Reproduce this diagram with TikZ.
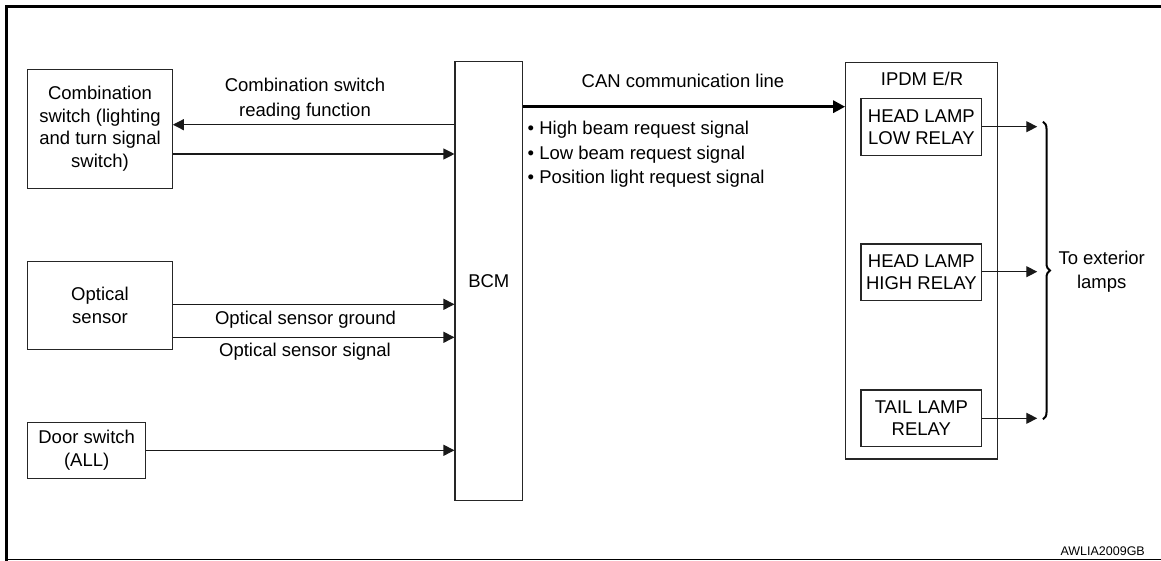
\documentclass[tikz,border=0pt]{standalone}
\usepackage{fontspec}
\setmainfont{Liberation Sans}
\usetikzlibrary{arrows.meta,decorations.pathreplacing}
\newcommand\lblfont{\fontsize{18.5}{22.5}\selectfont}
\tikzset{
  box/.style={draw=black!85, line width=1.1pt, inner sep=0pt, align=center, font=\lblfont},
  lbl/.style={inner sep=0pt, align=center, font=\lblfont},
  arr/.style={draw=black!90, line width=1.1pt, -{Triangle[length=11pt,width=11pt]}},
  frame/.style={line width=3pt},
}
\begin{document}
\begin{tikzpicture}[x=1pt,y=-1pt]
\useasboundingbox (0,0) rectangle (1161,561);
% frame
\draw[frame] (1161,6.2) -- (6.2,6.2) -- (6.2,561);
\draw[line width=1.5pt] (6.2,559.6) -- (1161,559.6);

% left boxes
\node[box, minimum width=144.6pt, minimum height=119pt] (combo) at (100,128.8)
  {Combination\\switch (lighting\\and turn signal\\switch)};
\node[box, minimum width=144.6pt, minimum height=87.6pt] (optical) at (100,305.5)
  {Optical\\sensor};
\node[box, minimum width=118pt, minimum height=56pt] (door) at (86.7,450.3)
  {Door switch\\(ALL)};

% BCM
\node[box, minimum width=67.7pt, minimum height=439pt] (bcm) at (488.85,281.2) {BCM};

% IPDM
\node[box, minimum width=151.6pt, minimum height=396.7pt] (ipdm) at (921.5,260.65) {};
\node[lbl] (ipdmlbl) at (922,79) {IPDM E/R};
\node[box, minimum width=120.7pt, minimum height=57.4pt] (low) at (921.35,127)
  {HEAD LAMP\\LOW RELAY};
\node[box, minimum width=120.7pt, minimum height=56.7pt] (high) at (921.35,272.35)
  {HEAD LAMP\\HIGH RELAY};
\node[box, minimum width=120.7pt, minimum height=56.7pt] (tail) at (921.35,418.35)
  {TAIL LAMP\\RELAY};

% connectors left
\draw[arr] (bcm.west |- 0,124.7) -- (combo.east |- 0,124.7);
\draw[arr] (combo.east |- 0,154) -- (bcm.west |- 0,154);
\draw[arr] (optical.east |- 0,304.3) -- (bcm.west |- 0,304.3);
\draw[arr] (optical.east |- 0,337.3) -- (bcm.west |- 0,337.3);
\draw[arr] (door.east |- 0,450.3) -- (bcm.west |- 0,450.3);

\node[lbl, font=\fontsize{18.5}{24.5}\selectfont] (readlbl) at (305,99.2) {Combination switch\\reading function};
\node[lbl] (gndlbl) at (305.5,320) {Optical sensor ground};
\node[lbl] (siglbl) at (305,351.7) {Optical sensor signal};

% CAN line
\draw[line width=3.2pt, -{Triangle[length=12pt,width=12pt]}] (bcm.east |- 0,106.7) -- (ipdm.west |- 0,106.7);
\node[lbl] (canlbl) at (683,81) {CAN communication line};
\node[lbl, anchor=west] (b1) at (527.5,129.5) {• High beam request signal};
\node[lbl, anchor=west] (b2) at (527.5,154.5) {• Low beam request signal};
\node[lbl, anchor=west] (b3) at (527.5,179) {• Position light request signal};

% outputs
\draw[arr] (low.east |- 0,126.7) -- ++(55,0) coordinate (lowend);
\draw[arr] (high.east |- 0,271.7) -- ++(55,0) coordinate (highend);
\draw[arr] (tail.east |- 0,418.3) -- ++(55,0) coordinate (tailend);
\coordinate (btop) at (1043,121.7);
\coordinate (bbot) at (1043,419.3);
\draw[line width=2pt, decorate, decoration={brace, amplitude=7pt}] (btop) -- (bbot);
\node[lbl, font=\fontsize{18.5}{24}\selectfont] (extlbl) at (1101.7,271.3) {To exterior\\lamps};

\node[inner sep=0pt, anchor=east, font=\fontsize{12.5}{14}\selectfont] (code) at (1145,551) {AWLIA2009GB};
\end{tikzpicture}
\end{document}
